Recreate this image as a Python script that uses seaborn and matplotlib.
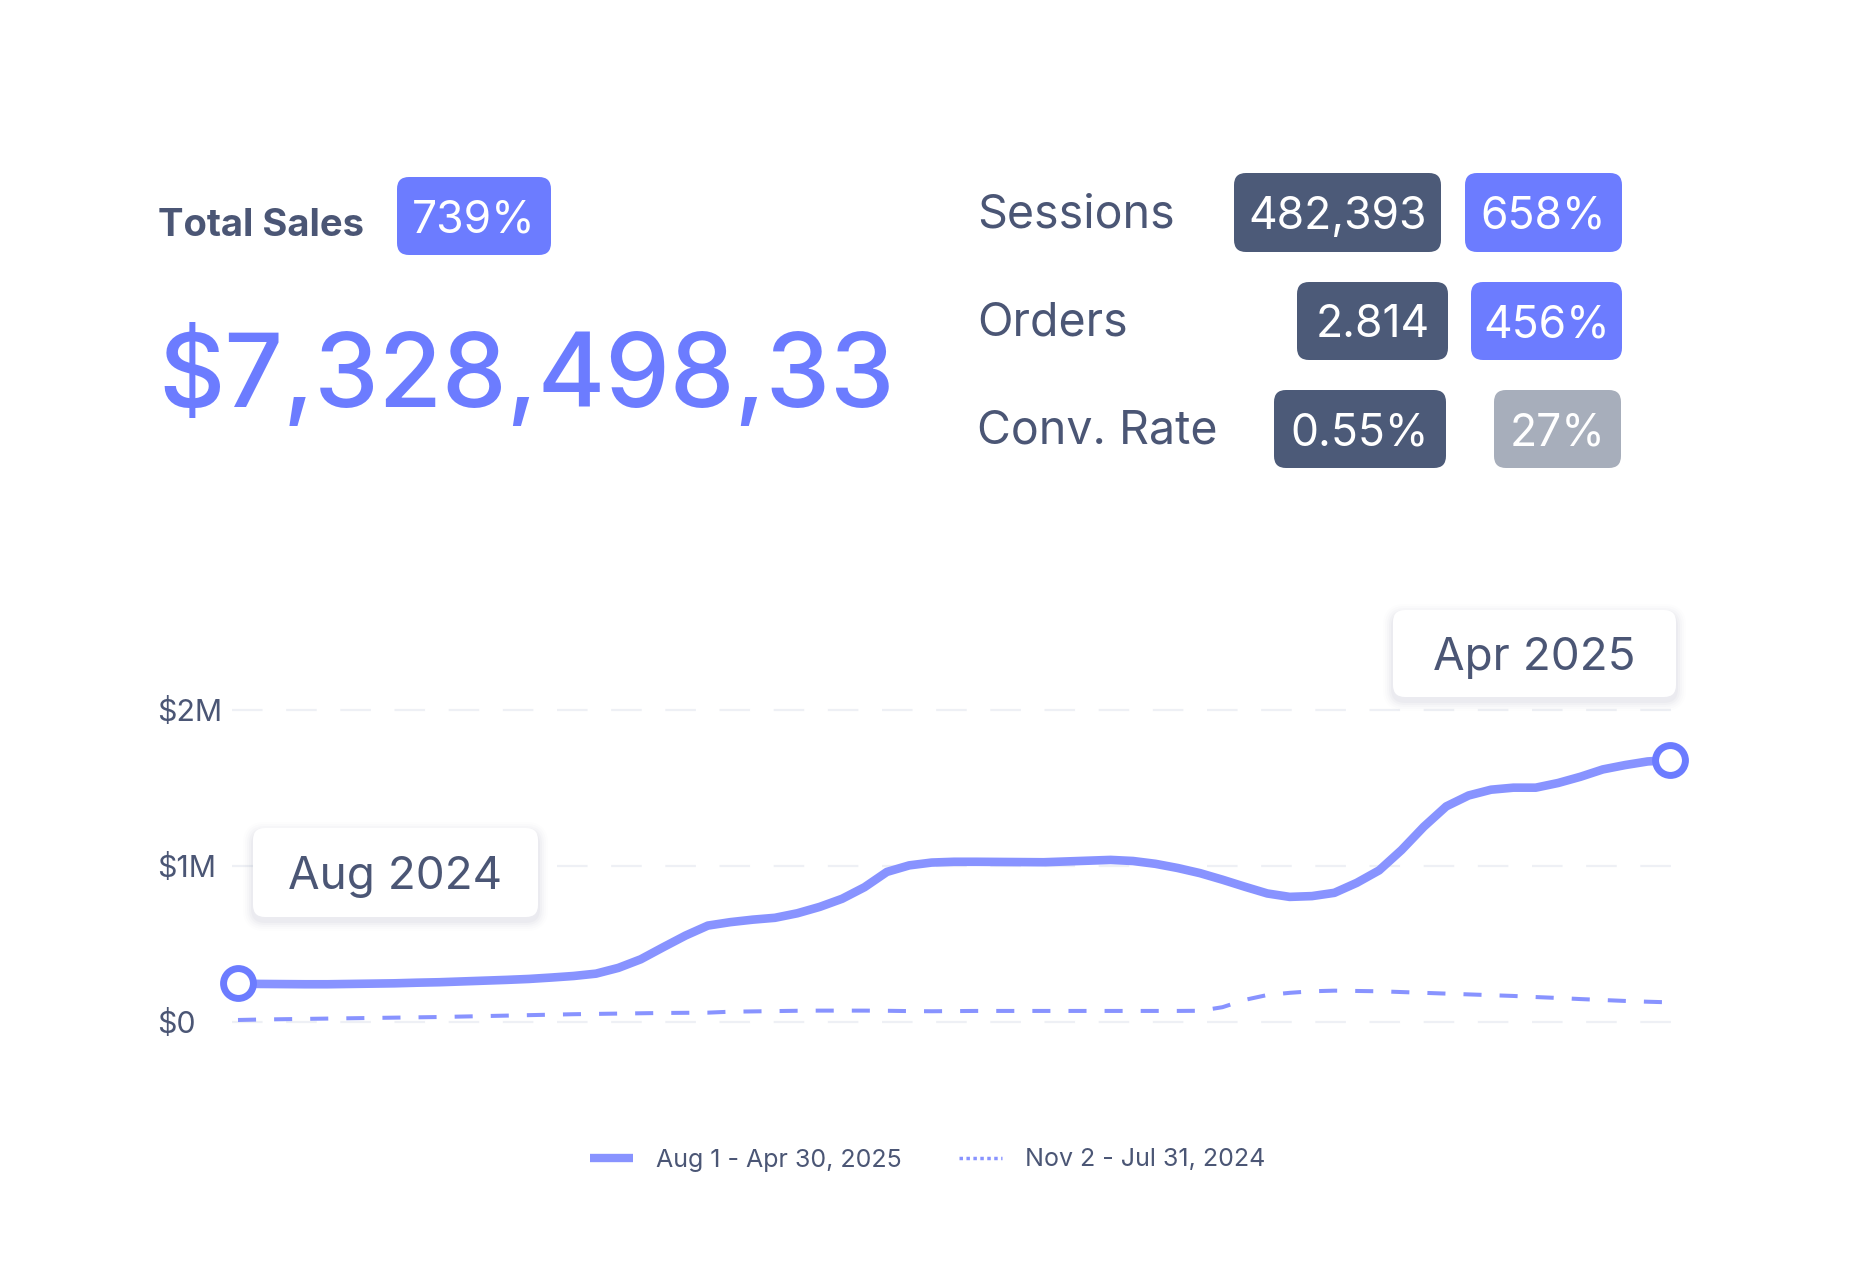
import numpy as np
import pandas as pd
import seaborn as sns
import matplotlib.pyplot as plt
from matplotlib.patches import FancyBboxPatch
from matplotlib.lines import Line2D

# header figures
total_label = "Total Sales"
total_value = "$7,328,498,33"
total_change = "739%"

kpi_names = ["Sessions", "Orders", "Conv. Rate"]
kpi_values = ["482,393", "2.814", "0.55%"]
kpi_changes = ["658%", "456%", "27%"]
kpi_up = [True, True, False]

# sales in $M at equal steps
current_sales = [0.245, 0.242, 0.241, 0.240, 0.240, 0.242, 0.244, 0.246, 0.250,
                 0.253, 0.258, 0.263, 0.268, 0.274, 0.283, 0.293, 0.308, 0.345,
                 0.40, 0.477, 0.552, 0.616, 0.638, 0.654, 0.666, 0.695, 0.736,
                 0.788, 0.862, 0.96, 1.002, 1.020, 1.025, 1.025, 1.024, 1.023,
                 1.022, 1.027, 1.032, 1.037, 1.030, 1.012, 0.985, 0.952, 0.910,
                 0.865, 0.822, 0.800, 0.805, 0.826, 0.89, 0.97, 1.10, 1.25, 1.38,
                 1.45, 1.487, 1.50, 1.50, 1.53, 1.57, 1.617, 1.645, 1.668, 1.677]
previous_sales = [0.011, 0.014, 0.016, 0.018, 0.020, 0.022, 0.024, 0.026, 0.028,
                  0.030, 0.033, 0.036, 0.039, 0.042, 0.045, 0.048, 0.050, 0.052,
                  0.054, 0.056, 0.057, 0.058, 0.064, 0.066, 0.068, 0.070, 0.071,
                  0.071, 0.071, 0.070, 0.068, 0.067, 0.068, 0.069, 0.069, 0.069,
                  0.069, 0.069, 0.069, 0.069, 0.069, 0.069, 0.069, 0.070, 0.093,
                  0.14, 0.171, 0.185, 0.195, 0.199, 0.197, 0.195, 0.190, 0.185,
                  0.180, 0.175, 0.170, 0.165, 0.158, 0.152, 0.145, 0.139, 0.133,
                  0.128, 0.124]
period_labels = ["Aug 1 - Apr 30, 2025", "Nov 2 - Jul 31, 2024"]
first_month, last_month = "Aug 2024", "Apr 2025"
y_ticks = [0, 1, 2]
y_tick_labels = ["$0", "$1M", "$2M"]

SLATE = "#4b5675"
DARK = "#4c5a78"
BLUE = "#6c7cff"
GREY = "#a7aebb"
LINE = "#8893ff"

sns.set_theme(style="white")
plt.rcParams["font.family"] = ["Inter", "DejaVu Sans"]
plt.rcParams["lines.scale_dashes"] = False

W, H = 1854, 1283
fig = plt.figure(figsize=(W / 100, H / 100), dpi=100)
fig.patch.set_facecolor("white")


def cap_px(size):
    return 0.727 * size * 100 / 72


# ---- chart ----
n = len(current_sales)
ax = fig.add_axes([232 / W, 1 - 1029.5 / H, (1687 - 232) / W, (1029.5 - 700.3) / H])
ax.set_facecolor("none")

df = pd.DataFrame({
    "step": list(range(n)) * 2,
    "sales": current_sales + previous_sales,
    "period": [period_labels[0]] * n + [period_labels[1]] * n,
})
cur = df[df["period"] == period_labels[0]]
prev = df[df["period"] == period_labels[1]]

sns.lineplot(data=prev, x="step", y="sales", ax=ax, color=LINE, linewidth=2.9,
             linestyle=(0, (13, 13)), legend=False)
sns.lineplot(data=cur, x="step", y="sales", ax=ax, color=LINE, linewidth=6.2,
             solid_capstyle="round", solid_joinstyle="round", legend=False)
ends = cur.iloc[[0, -1]]
ax.plot(ends["step"], ends["sales"], "o", ms=21.5, mew=5, mfc="white", mec=BLUE,
        zorder=5, clip_on=False)

step_px = (1670 - 238) / (n - 1)
ax.set_xlim(-6 / step_px, n - 1 + 17 / step_px)
ax.set_ylim(-0.05, 2.06)
ax.set_yticks(y_ticks)
ax.set_yticklabels(y_tick_labels)
ax.set_xticks([])
ax.set_xlabel("")
ax.set_ylabel("")
ax.yaxis.grid(True, color="#eef0f5", linewidth=1.6, dashes=(22, 17))
ax.tick_params(axis="y", length=0, pad=54, labelsize=21.8, labelcolor=SLATE)
for lbl in ax.get_yticklabels():
    lbl.set_horizontalalignment("left")
sns.despine(ax=ax, left=True, bottom=True)

# ---- overlay in pixel units ----
ov = fig.add_axes([0, 0, 1, 1], zorder=5)
ov.set_xlim(0, W)
ov.set_ylim(H, 0)
ov.axis("off")
ov.patch.set_alpha(0)


def box(x0, y0, x1, y1, color, r=12, z=2):
    ov.add_patch(FancyBboxPatch((x0 + r, y0 + r), x1 - x0 - 2 * r, y1 - y0 - 2 * r,
                                boxstyle=f"round,pad={r}", fc=color, ec="none", zorder=z))


def badge(x0, y0, x1, y1, text, color, size=32):
    box(x0, y0, x1, y1, color)
    ov.text((x0 + x1) / 2, (y0 + y1) / 2 + cap_px(size) / 2, text, ha="center",
            va="baseline", color="white", fontsize=size, zorder=3)


def tooltip(x0, y0, x1, y1, text, size=33):
    for k, a in zip(range(5, 0, -1), [0.012, 0.018, 0.025, 0.035, 0.045]):
        box(x0 - 2 * k, y0 - 2 * k + 4, x1 + 2 * k, y1 + 2 * k + 4, (0.45, 0.48, 0.6, a),
            r=12 + 2 * k, z=1)
    box(x0, y0, x1, y1, "white", r=12, z=2)
    ov.text((x0 + x1) / 2, (y0 + y1) / 2 + cap_px(size) / 2, text, ha="center",
            va="baseline", color=SLATE, fontsize=size, zorder=3)


# left block
ov.text(158, 236, total_label, fontsize=27.5, fontweight="bold", color=SLATE,
        va="baseline")
badge(397, 177, 551, 255, total_change, BLUE)
ov.text(158, 407, total_value, fontsize=74, fontweight="medium", color=BLUE,
        va="baseline")

# right block
rows_y = [(173, 252), (282, 360), (390, 468)]
value_x = [(1234, 1441), (1297, 1448), (1274, 1446)]
change_x = [(1465, 1622), (1471, 1622), (1494, 1621)]
for i, name in enumerate(kpi_names):
    y0, y1 = rows_y[i]
    ov.text(977, (y0 + y1) / 2 - 2 + cap_px(33.5) / 2, name, fontsize=33.5, color=SLATE,
            va="baseline")
    badge(value_x[i][0], y0, value_x[i][1], y1, kpi_values[i], DARK)
    badge(change_x[i][0], y0, change_x[i][1], y1, kpi_changes[i],
          BLUE if kpi_up[i] else GREY)

# month callouts
tooltip(253, 828, 538, 917, first_month)
tooltip(1393, 610, 1676, 697, last_month)

# legend
handles = [
    Line2D([], [], color=LINE, linewidth=6, solid_capstyle="butt"),
    Line2D([], [], color=LINE, linewidth=2.5, linestyle=(0, (2.5, 2.5))),
]
fig.legend(handles, period_labels, loc="center", bbox_to_anchor=(928 / W, 1 - 1160 / H),
           ncol=2, frameon=False, fontsize=18, labelcolor=SLATE, handlelength=1.72,
           handletextpad=0.92, columnspacing=2.28)

fig.savefig("out.png", dpi=100, facecolor="white")
